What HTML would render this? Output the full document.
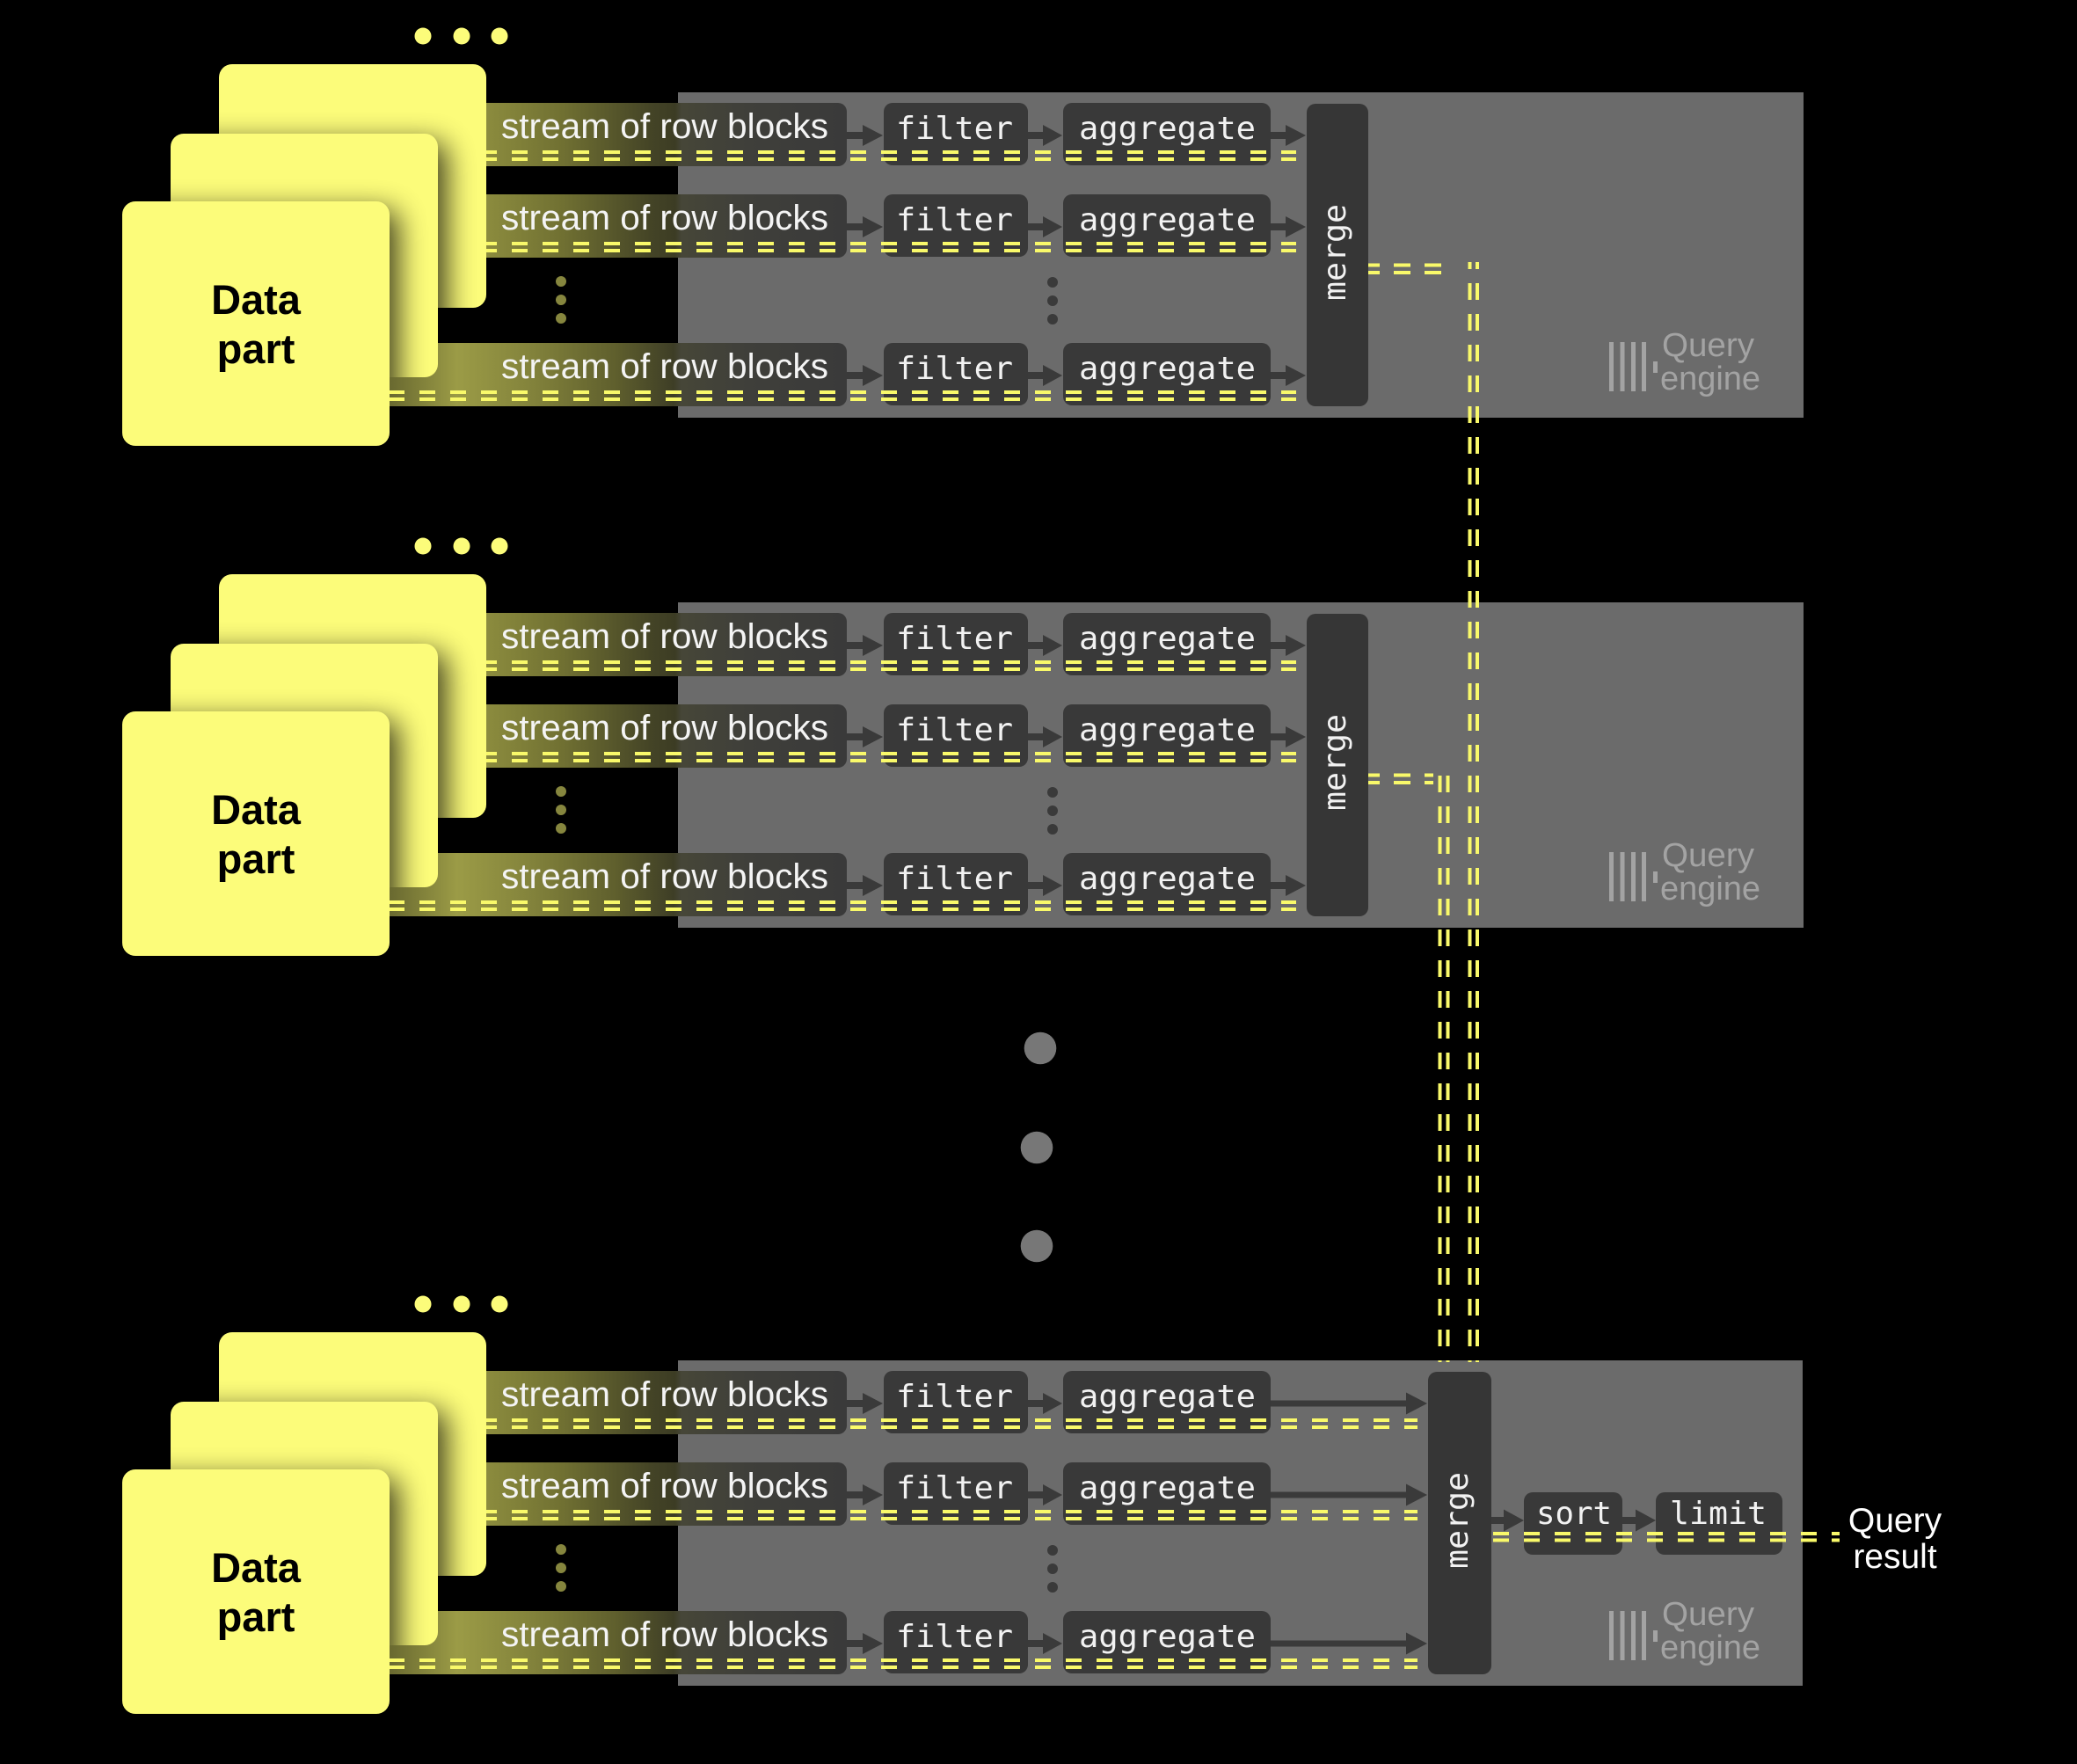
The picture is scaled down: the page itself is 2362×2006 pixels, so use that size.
<!DOCTYPE html>
<html><head><meta charset="utf-8"><title>Query pipeline</title>
<style>
html,body{margin:0;padding:0;background:#000;}
svg{display:block;}
.st{font-family:"Liberation Sans",sans-serif;font-size:40px;fill:#f4f4f4;}
.mn{font-family:"DejaVu Sans Mono","Liberation Mono",monospace;font-size:36px;fill:#f2f2f2;}
.lg{font-family:"Liberation Sans",sans-serif;font-size:38px;fill:#a3a3a3;}
.dp{font-family:"Liberation Sans",sans-serif;font-size:47px;font-weight:bold;fill:#000;}
.qr{font-family:"Liberation Sans",sans-serif;font-size:39px;fill:#fff;}
.box{fill:#393939;}
.arr{fill:#3a3a3a;}
.dsh{fill:none;stroke:#f9f96a;stroke-width:4;stroke-dasharray:18 17;}
.card{fill:#fcfc7a;}
.lgb{fill:#a3a3a3;}
</style></head><body>
<svg width="2362" height="2006" viewBox="0 0 2362 2006" xmlns="http://www.w3.org/2000/svg">
<defs>
  <linearGradient id="g12" gradientUnits="userSpaceOnUse" x1="552" y1="0" x2="963" y2="0">
    <stop offset="0" stop-color="rgb(140,140,62)"/>
    <stop offset="0.214" stop-color="rgb(112,112,50)"/>
    <stop offset="0.457" stop-color="rgb(68,68,38)"/>
    <stop offset="0.525" stop-color="rgb(60,60,36)"/>
    <stop offset="0.543" stop-color="rgb(70,70,56)"/>
    <stop offset="0.725" stop-color="rgb(63,63,58)"/>
    <stop offset="1" stop-color="rgb(58,58,58)"/>
  </linearGradient>
  <linearGradient id="g3" gradientUnits="userSpaceOnUse" x1="443" y1="0" x2="963" y2="0">
    <stop offset="0" stop-color="rgb(105,105,48)"/>
    <stop offset="0.148" stop-color="rgb(155,155,70)"/>
    <stop offset="0.302" stop-color="rgb(132,132,60)"/>
    <stop offset="0.494" stop-color="rgb(95,95,45)"/>
    <stop offset="0.621" stop-color="rgb(62,62,38)"/>
    <stop offset="0.638" stop-color="rgb(70,70,56)"/>
    <stop offset="0.783" stop-color="rgb(63,63,58)"/>
    <stop offset="1" stop-color="rgb(58,58,58)"/>
  </linearGradient>
  <clipPath id="cBack"><rect x="249" y="73" width="304" height="277" rx="15"/></clipPath>
  <clipPath id="cMid"><rect x="194" y="152" width="304" height="277" rx="15"/></clipPath>
  <filter id="blur" x="-40%" y="-40%" width="180%" height="180%"><feGaussianBlur stdDeviation="16"/></filter>
</defs>
<rect width="2362" height="2006" fill="#000"/>

<!-- ========== SECTION 1 ========== -->
<g transform="translate(0,0)">
  <circle cx="481" cy="41" r="9.5" fill="#fcfc7a"/><circle cx="525" cy="41" r="9.5" fill="#fcfc7a"/><circle cx="568" cy="41" r="9.5" fill="#fcfc7a"/>
  <rect x="771" y="105" width="1280" height="370" fill="#6b6b6b"/>
  <rect x="540" y="117" width="423" height="72" rx="10" fill="url(#g12)"/>
  <rect x="540" y="221" width="423" height="72" rx="10" fill="url(#g12)"/>
  <rect x="430" y="390" width="533" height="72" rx="10" fill="url(#g3)"/>
  <rect class="box" x="1005" y="117" width="164" height="71" rx="10"/><rect class="box" x="1209" y="117" width="236" height="71" rx="10"/>
  <rect class="box" x="1005" y="221" width="164" height="71" rx="10"/><rect class="box" x="1209" y="221" width="236" height="71" rx="10"/>
  <rect class="box" x="1005" y="390" width="164" height="71" rx="10"/><rect class="box" x="1209" y="390" width="236" height="71" rx="10"/>
  <rect x="1486" y="118" width="70" height="344" rx="10" fill="#363636"/>
  <path class="arr" d="M963 150 H981 V142 L1004 154 L981 166 V158 H963 Z M1169 150 H1186 V142 L1208 154 L1186 166 V158 H1169 Z M1445 150 H1462 V142 L1485 154 L1462 166 V158 H1445 Z"/>
  <path class="arr" d="M963 254 H981 V246 L1004 258 L981 270 V262 H963 Z M1169 254 H1186 V246 L1208 258 L1186 270 V262 H1169 Z M1445 254 H1462 V246 L1485 258 L1462 270 V262 H1445 Z"/>
  <path class="arr" d="M963 423 H981 V415 L1004 427 L981 439 V431 H963 Z M1169 423 H1186 V415 L1208 427 L1186 439 V431 H1169 Z M1445 423 H1462 V415 L1485 427 L1462 439 V431 H1445 Z"/>
  <text class="st" x="570" y="157" textLength="372" lengthAdjust="spacingAndGlyphs">stream of row blocks</text>
  <text class="st" x="570" y="261" textLength="372" lengthAdjust="spacingAndGlyphs">stream of row blocks</text>
  <text class="st" x="570" y="430" textLength="372" lengthAdjust="spacingAndGlyphs">stream of row blocks</text>
  <text class="mn" x="1019" y="158" textLength="133" lengthAdjust="spacingAndGlyphs">filter</text>
  <text class="mn" x="1227" y="158" textLength="201" lengthAdjust="spacingAndGlyphs">aggregate</text>
  <text class="mn" x="1019" y="262" textLength="133" lengthAdjust="spacingAndGlyphs">filter</text>
  <text class="mn" x="1227" y="262" textLength="201" lengthAdjust="spacingAndGlyphs">aggregate</text>
  <text class="mn" x="1019" y="431" textLength="133" lengthAdjust="spacingAndGlyphs">filter</text>
  <text class="mn" x="1227" y="431" textLength="201" lengthAdjust="spacingAndGlyphs">aggregate</text>
  <text class="mn" transform="translate(1530,287) rotate(-90)" x="-55" y="0" textLength="110" lengthAdjust="spacingAndGlyphs">merge</text>
  <path class="dsh" style="stroke-dashoffset:5" d="M552 173 H1474 M552 181 H1474 M552 277 H1474 M552 285 H1474"/>
  <path class="dsh" style="stroke-dashoffset:1" d="M443 446 H1474 M443 454 H1474"/>
  <circle cx="638" cy="320" r="6" fill="#86863e"/><circle cx="638" cy="341" r="6" fill="#86863e"/><circle cx="638" cy="362" r="6" fill="#86863e"/>
  <circle cx="1197" cy="321" r="6" fill="#3a3a3a"/><circle cx="1197" cy="342" r="6" fill="#3a3a3a"/><circle cx="1197" cy="363" r="6" fill="#3a3a3a"/>
  <rect class="lgb" x="1830" y="389" width="5" height="56"/><rect class="lgb" x="1842.5" y="389" width="5" height="56"/><rect class="lgb" x="1855" y="389" width="5" height="56"/><rect class="lgb" x="1867" y="389" width="5" height="56"/><rect class="lgb" x="1880" y="411" width="5" height="13"/>
  <text class="lg" x="1890" y="405" textLength="105" lengthAdjust="spacingAndGlyphs">Query</text>
  <text class="lg" x="1888" y="443" textLength="114" lengthAdjust="spacingAndGlyphs">engine</text>
  <rect class="card" x="249" y="73" width="304" height="277" rx="15"/>
  <g clip-path="url(#cBack)"><rect x="204" y="162" width="304" height="277" rx="15" fill="#000" opacity="0.75" filter="url(#blur)"/></g>
  <rect class="card" x="194" y="152" width="304" height="277" rx="15"/>
  <g clip-path="url(#cMid)"><rect x="149" y="239" width="304" height="278" rx="15" fill="#000" opacity="0.75" filter="url(#blur)"/></g>
  <rect class="card" x="139" y="229" width="304" height="278" rx="15"/>
  <text class="dp" x="291" y="357" text-anchor="middle">Data</text>
  <text class="dp" x="291" y="413" text-anchor="middle">part</text>
</g>

<!-- ========== SECTION 2 ========== -->
<g transform="translate(0,580)">
  <circle cx="481" cy="41" r="9.5" fill="#fcfc7a"/><circle cx="525" cy="41" r="9.5" fill="#fcfc7a"/><circle cx="568" cy="41" r="9.5" fill="#fcfc7a"/>
  <rect x="771" y="105" width="1280" height="370" fill="#6b6b6b"/>
  <rect x="540" y="117" width="423" height="72" rx="10" fill="url(#g12)"/>
  <rect x="540" y="221" width="423" height="72" rx="10" fill="url(#g12)"/>
  <rect x="430" y="390" width="533" height="72" rx="10" fill="url(#g3)"/>
  <rect class="box" x="1005" y="117" width="164" height="71" rx="10"/><rect class="box" x="1209" y="117" width="236" height="71" rx="10"/>
  <rect class="box" x="1005" y="221" width="164" height="71" rx="10"/><rect class="box" x="1209" y="221" width="236" height="71" rx="10"/>
  <rect class="box" x="1005" y="390" width="164" height="71" rx="10"/><rect class="box" x="1209" y="390" width="236" height="71" rx="10"/>
  <rect x="1486" y="118" width="70" height="344" rx="10" fill="#363636"/>
  <path class="arr" d="M963 150 H981 V142 L1004 154 L981 166 V158 H963 Z M1169 150 H1186 V142 L1208 154 L1186 166 V158 H1169 Z M1445 150 H1462 V142 L1485 154 L1462 166 V158 H1445 Z"/>
  <path class="arr" d="M963 254 H981 V246 L1004 258 L981 270 V262 H963 Z M1169 254 H1186 V246 L1208 258 L1186 270 V262 H1169 Z M1445 254 H1462 V246 L1485 258 L1462 270 V262 H1445 Z"/>
  <path class="arr" d="M963 423 H981 V415 L1004 427 L981 439 V431 H963 Z M1169 423 H1186 V415 L1208 427 L1186 439 V431 H1169 Z M1445 423 H1462 V415 L1485 427 L1462 439 V431 H1445 Z"/>
  <text class="st" x="570" y="157" textLength="372" lengthAdjust="spacingAndGlyphs">stream of row blocks</text>
  <text class="st" x="570" y="261" textLength="372" lengthAdjust="spacingAndGlyphs">stream of row blocks</text>
  <text class="st" x="570" y="430" textLength="372" lengthAdjust="spacingAndGlyphs">stream of row blocks</text>
  <text class="mn" x="1019" y="158" textLength="133" lengthAdjust="spacingAndGlyphs">filter</text>
  <text class="mn" x="1227" y="158" textLength="201" lengthAdjust="spacingAndGlyphs">aggregate</text>
  <text class="mn" x="1019" y="262" textLength="133" lengthAdjust="spacingAndGlyphs">filter</text>
  <text class="mn" x="1227" y="262" textLength="201" lengthAdjust="spacingAndGlyphs">aggregate</text>
  <text class="mn" x="1019" y="431" textLength="133" lengthAdjust="spacingAndGlyphs">filter</text>
  <text class="mn" x="1227" y="431" textLength="201" lengthAdjust="spacingAndGlyphs">aggregate</text>
  <text class="mn" transform="translate(1530,287) rotate(-90)" x="-55" y="0" textLength="110" lengthAdjust="spacingAndGlyphs">merge</text>
  <path class="dsh" style="stroke-dashoffset:5" d="M552 173 H1474 M552 181 H1474 M552 277 H1474 M552 285 H1474"/>
  <path class="dsh" style="stroke-dashoffset:1" d="M443 446 H1474 M443 454 H1474"/>
  <circle cx="638" cy="320" r="6" fill="#86863e"/><circle cx="638" cy="341" r="6" fill="#86863e"/><circle cx="638" cy="362" r="6" fill="#86863e"/>
  <circle cx="1197" cy="321" r="6" fill="#3a3a3a"/><circle cx="1197" cy="342" r="6" fill="#3a3a3a"/><circle cx="1197" cy="363" r="6" fill="#3a3a3a"/>
  <rect class="lgb" x="1830" y="389" width="5" height="56"/><rect class="lgb" x="1842.5" y="389" width="5" height="56"/><rect class="lgb" x="1855" y="389" width="5" height="56"/><rect class="lgb" x="1867" y="389" width="5" height="56"/><rect class="lgb" x="1880" y="411" width="5" height="13"/>
  <text class="lg" x="1890" y="405" textLength="105" lengthAdjust="spacingAndGlyphs">Query</text>
  <text class="lg" x="1888" y="443" textLength="114" lengthAdjust="spacingAndGlyphs">engine</text>
  <rect class="card" x="249" y="73" width="304" height="277" rx="15"/>
  <g clip-path="url(#cBack)"><rect x="204" y="162" width="304" height="277" rx="15" fill="#000" opacity="0.75" filter="url(#blur)"/></g>
  <rect class="card" x="194" y="152" width="304" height="277" rx="15"/>
  <g clip-path="url(#cMid)"><rect x="149" y="239" width="304" height="278" rx="15" fill="#000" opacity="0.75" filter="url(#blur)"/></g>
  <rect class="card" x="139" y="229" width="304" height="278" rx="15"/>
  <text class="dp" x="291" y="357" text-anchor="middle">Data</text>
  <text class="dp" x="291" y="413" text-anchor="middle">part</text>
</g>

<!-- big gray dots -->
<circle cx="1183" cy="1192" r="18.3" fill="#777"/>
<circle cx="1179" cy="1305" r="18.3" fill="#777"/>
<circle cx="1179" cy="1417" r="18.3" fill="#777"/>

<!-- ========== SECTION 3 ========== -->
<g transform="translate(0,1442)">
  <circle cx="481" cy="41" r="9.5" fill="#fcfc7a"/><circle cx="525" cy="41" r="9.5" fill="#fcfc7a"/><circle cx="568" cy="41" r="9.5" fill="#fcfc7a"/>
  <rect x="771" y="105" width="1279" height="370" fill="#6b6b6b"/>
  <rect x="540" y="117" width="423" height="72" rx="10" fill="url(#g12)"/>
  <rect x="540" y="221" width="423" height="72" rx="10" fill="url(#g12)"/>
  <rect x="430" y="390" width="533" height="72" rx="10" fill="url(#g3)"/>
  <rect class="box" x="1005" y="117" width="164" height="71" rx="10"/><rect class="box" x="1209" y="117" width="236" height="71" rx="10"/>
  <rect class="box" x="1005" y="221" width="164" height="71" rx="10"/><rect class="box" x="1209" y="221" width="236" height="71" rx="10"/>
  <rect class="box" x="1005" y="390" width="164" height="71" rx="10"/><rect class="box" x="1209" y="390" width="236" height="71" rx="10"/>
  <rect x="1624" y="118" width="72" height="344" rx="10" fill="#363636"/>
  <rect class="box" x="1733" y="255" width="112" height="71" rx="10"/>
  <rect class="box" x="1883" y="255" width="144" height="71" rx="10"/>
  <path class="arr" d="M963 150 H981 V142 L1004 154 L981 166 V158 H963 Z M1169 150 H1186 V142 L1208 154 L1186 166 V158 H1169 Z M1445 150.5 H1599 V141.5 L1623 154 L1599 166.5 V157.5 H1445 Z"/>
  <path class="arr" d="M963 254 H981 V246 L1004 258 L981 270 V262 H963 Z M1169 254 H1186 V246 L1208 258 L1186 270 V262 H1169 Z M1445 254.5 H1599 V245.5 L1623 258 L1599 270.5 V261.5 H1445 Z"/>
  <path class="arr" d="M963 423 H981 V415 L1004 427 L981 439 V431 H963 Z M1169 423 H1186 V415 L1208 427 L1186 439 V431 H1169 Z M1445 423.5 H1599 V414.5 L1623 427 L1599 439.5 V430.5 H1445 Z"/>
  <path class="arr" d="M1696 283 H1710 V274.5 L1733 287 L1710 299.5 V291 H1696 Z M1845 283 H1860 V274.5 L1883 287 L1860 299.5 V291 H1845 Z"/>
  <text class="st" x="570" y="157" textLength="372" lengthAdjust="spacingAndGlyphs">stream of row blocks</text>
  <text class="st" x="570" y="261" textLength="372" lengthAdjust="spacingAndGlyphs">stream of row blocks</text>
  <text class="st" x="570" y="430" textLength="372" lengthAdjust="spacingAndGlyphs">stream of row blocks</text>
  <text class="mn" x="1019" y="158" textLength="133" lengthAdjust="spacingAndGlyphs">filter</text>
  <text class="mn" x="1227" y="158" textLength="201" lengthAdjust="spacingAndGlyphs">aggregate</text>
  <text class="mn" x="1019" y="262" textLength="133" lengthAdjust="spacingAndGlyphs">filter</text>
  <text class="mn" x="1227" y="262" textLength="201" lengthAdjust="spacingAndGlyphs">aggregate</text>
  <text class="mn" x="1019" y="431" textLength="133" lengthAdjust="spacingAndGlyphs">filter</text>
  <text class="mn" x="1227" y="431" textLength="201" lengthAdjust="spacingAndGlyphs">aggregate</text>
  <text class="mn" transform="translate(1669,287) rotate(-90)" x="-55" y="0" textLength="110" lengthAdjust="spacingAndGlyphs">merge</text>
  <text class="mn" x="1747" y="291" textLength="86" lengthAdjust="spacingAndGlyphs">sort</text>
  <text class="mn" x="1899" y="291" textLength="110" lengthAdjust="spacingAndGlyphs">limit</text>
  <path class="dsh" style="stroke-dashoffset:5" d="M552 173 H1612 M552 181 H1612 M552 277 H1612 M552 285 H1612"/>
  <path class="dsh" style="stroke-dashoffset:1" d="M443 446 H1612 M443 454 H1612"/>
  <path class="dsh" d="M1698 302 H2092 M1698 309.5 H2092"/>
  <text class="qr" x="2155" y="300" text-anchor="middle">Query</text>
  <text class="qr" x="2155" y="341" text-anchor="middle">result</text>
  <circle cx="638" cy="320" r="6" fill="#86863e"/><circle cx="638" cy="341" r="6" fill="#86863e"/><circle cx="638" cy="362" r="6" fill="#86863e"/>
  <circle cx="1197" cy="321" r="6" fill="#3a3a3a"/><circle cx="1197" cy="342" r="6" fill="#3a3a3a"/><circle cx="1197" cy="363" r="6" fill="#3a3a3a"/>
  <rect class="lgb" x="1830" y="390" width="5" height="56"/><rect class="lgb" x="1842.5" y="390" width="5" height="56"/><rect class="lgb" x="1855" y="390" width="5" height="56"/><rect class="lgb" x="1867" y="390" width="5" height="56"/><rect class="lgb" x="1880" y="412" width="5" height="13"/>
  <text class="lg" x="1890" y="406" textLength="105" lengthAdjust="spacingAndGlyphs">Query</text>
  <text class="lg" x="1888" y="444" textLength="114" lengthAdjust="spacingAndGlyphs">engine</text>
  <rect class="card" x="249" y="73" width="304" height="277" rx="15"/>
  <g clip-path="url(#cBack)"><rect x="204" y="162" width="304" height="277" rx="15" fill="#000" opacity="0.75" filter="url(#blur)"/></g>
  <rect class="card" x="194" y="152" width="304" height="277" rx="15"/>
  <g clip-path="url(#cMid)"><rect x="149" y="239" width="304" height="278" rx="15" fill="#000" opacity="0.75" filter="url(#blur)"/></g>
  <rect class="card" x="139" y="229" width="304" height="278" rx="15"/>
  <text class="dp" x="291" y="357" text-anchor="middle">Data</text>
  <text class="dp" x="291" y="413" text-anchor="middle">part</text>
</g>

<!-- ========== GLOBAL CONNECTORS ========== -->
<path fill="none" stroke="#f9f96a" stroke-width="4" stroke-dasharray="19 16" stroke-dashoffset="6" d="M1556 301.5 H1641 M1556 310 H1641"/>
<path fill="none" stroke="#f9f96a" stroke-width="4" stroke-dasharray="19 16" stroke-dashoffset="6" d="M1556 881.5 H1630 M1556 890 H1630"/>
<path fill="none" stroke="#f9f96a" stroke-width="4" stroke-dasharray="19 16" stroke-dashoffset="11" d="M1671.5 298 V1549 M1680 298 V1549"/>
<path fill="none" stroke="#f9f96a" stroke-width="4" stroke-dasharray="19 16" d="M1637.5 882 V1549 M1646.5 882 V1549"/>
</svg>
</body></html>
